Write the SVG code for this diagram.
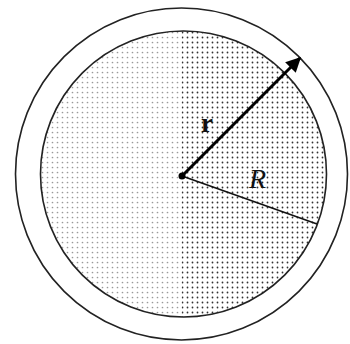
<svg xmlns="http://www.w3.org/2000/svg" width="350" height="344" viewBox="0 0 350 344">
<style>
.ring{fill:none;stroke:#222;stroke-width:1.6}
.lbl{font-family:"Liberation Serif",serif;fill:#111}
</style>
<defs>
<pattern id="dl" width="5" height="5" patternUnits="userSpaceOnUse"><circle cx="2.5" cy="2.5" r="0.85" fill="#999"/></pattern>
<pattern id="dd" width="5" height="5" patternUnits="userSpaceOnUse"><circle cx="2.5" cy="2.5" r="0.9" fill="#333"/></pattern>
<clipPath id="ci"><circle cx="183.5" cy="174" r="143"/></clipPath>
<marker id="ah" viewBox="0 0 10 10" refX="9" refY="5" markerWidth="5" markerHeight="5" orient="auto" markerUnits="strokeWidth"><path d="M0,0 L10,5 L0,10 Z" fill="#000"/></marker>
</defs>
<rect width="350" height="344" fill="#fff"/>
<g id="fill" clip-path="url(#ci)">
<rect x="30" y="20" width="152" height="310" fill="url(#dl)"/>
<rect x="182" y="20" width="160" height="310" fill="url(#dd)"/>
</g>
<g id="outer"><circle class="ring" cx="181.5" cy="174" r="166"/></g>
<g id="inner"><circle class="ring" cx="183.5" cy="174" r="143"/></g>
<g id="connectors">
<line x1="182" y1="176" x2="317" y2="224" stroke="#111" stroke-width="1.5"/>
<line x1="182" y1="176" x2="300" y2="58" stroke="#000" stroke-width="3" marker-end="url(#ah)"/>
<circle cx="182" cy="176" r="3.5" fill="#000"/>
</g>
<g id="labels">
<text class="lbl" x="201" y="132" font-size="27" font-weight="bold">r</text>
<text class="lbl" x="249" y="188" font-size="28" font-style="italic">R</text>
</g>
</svg>
